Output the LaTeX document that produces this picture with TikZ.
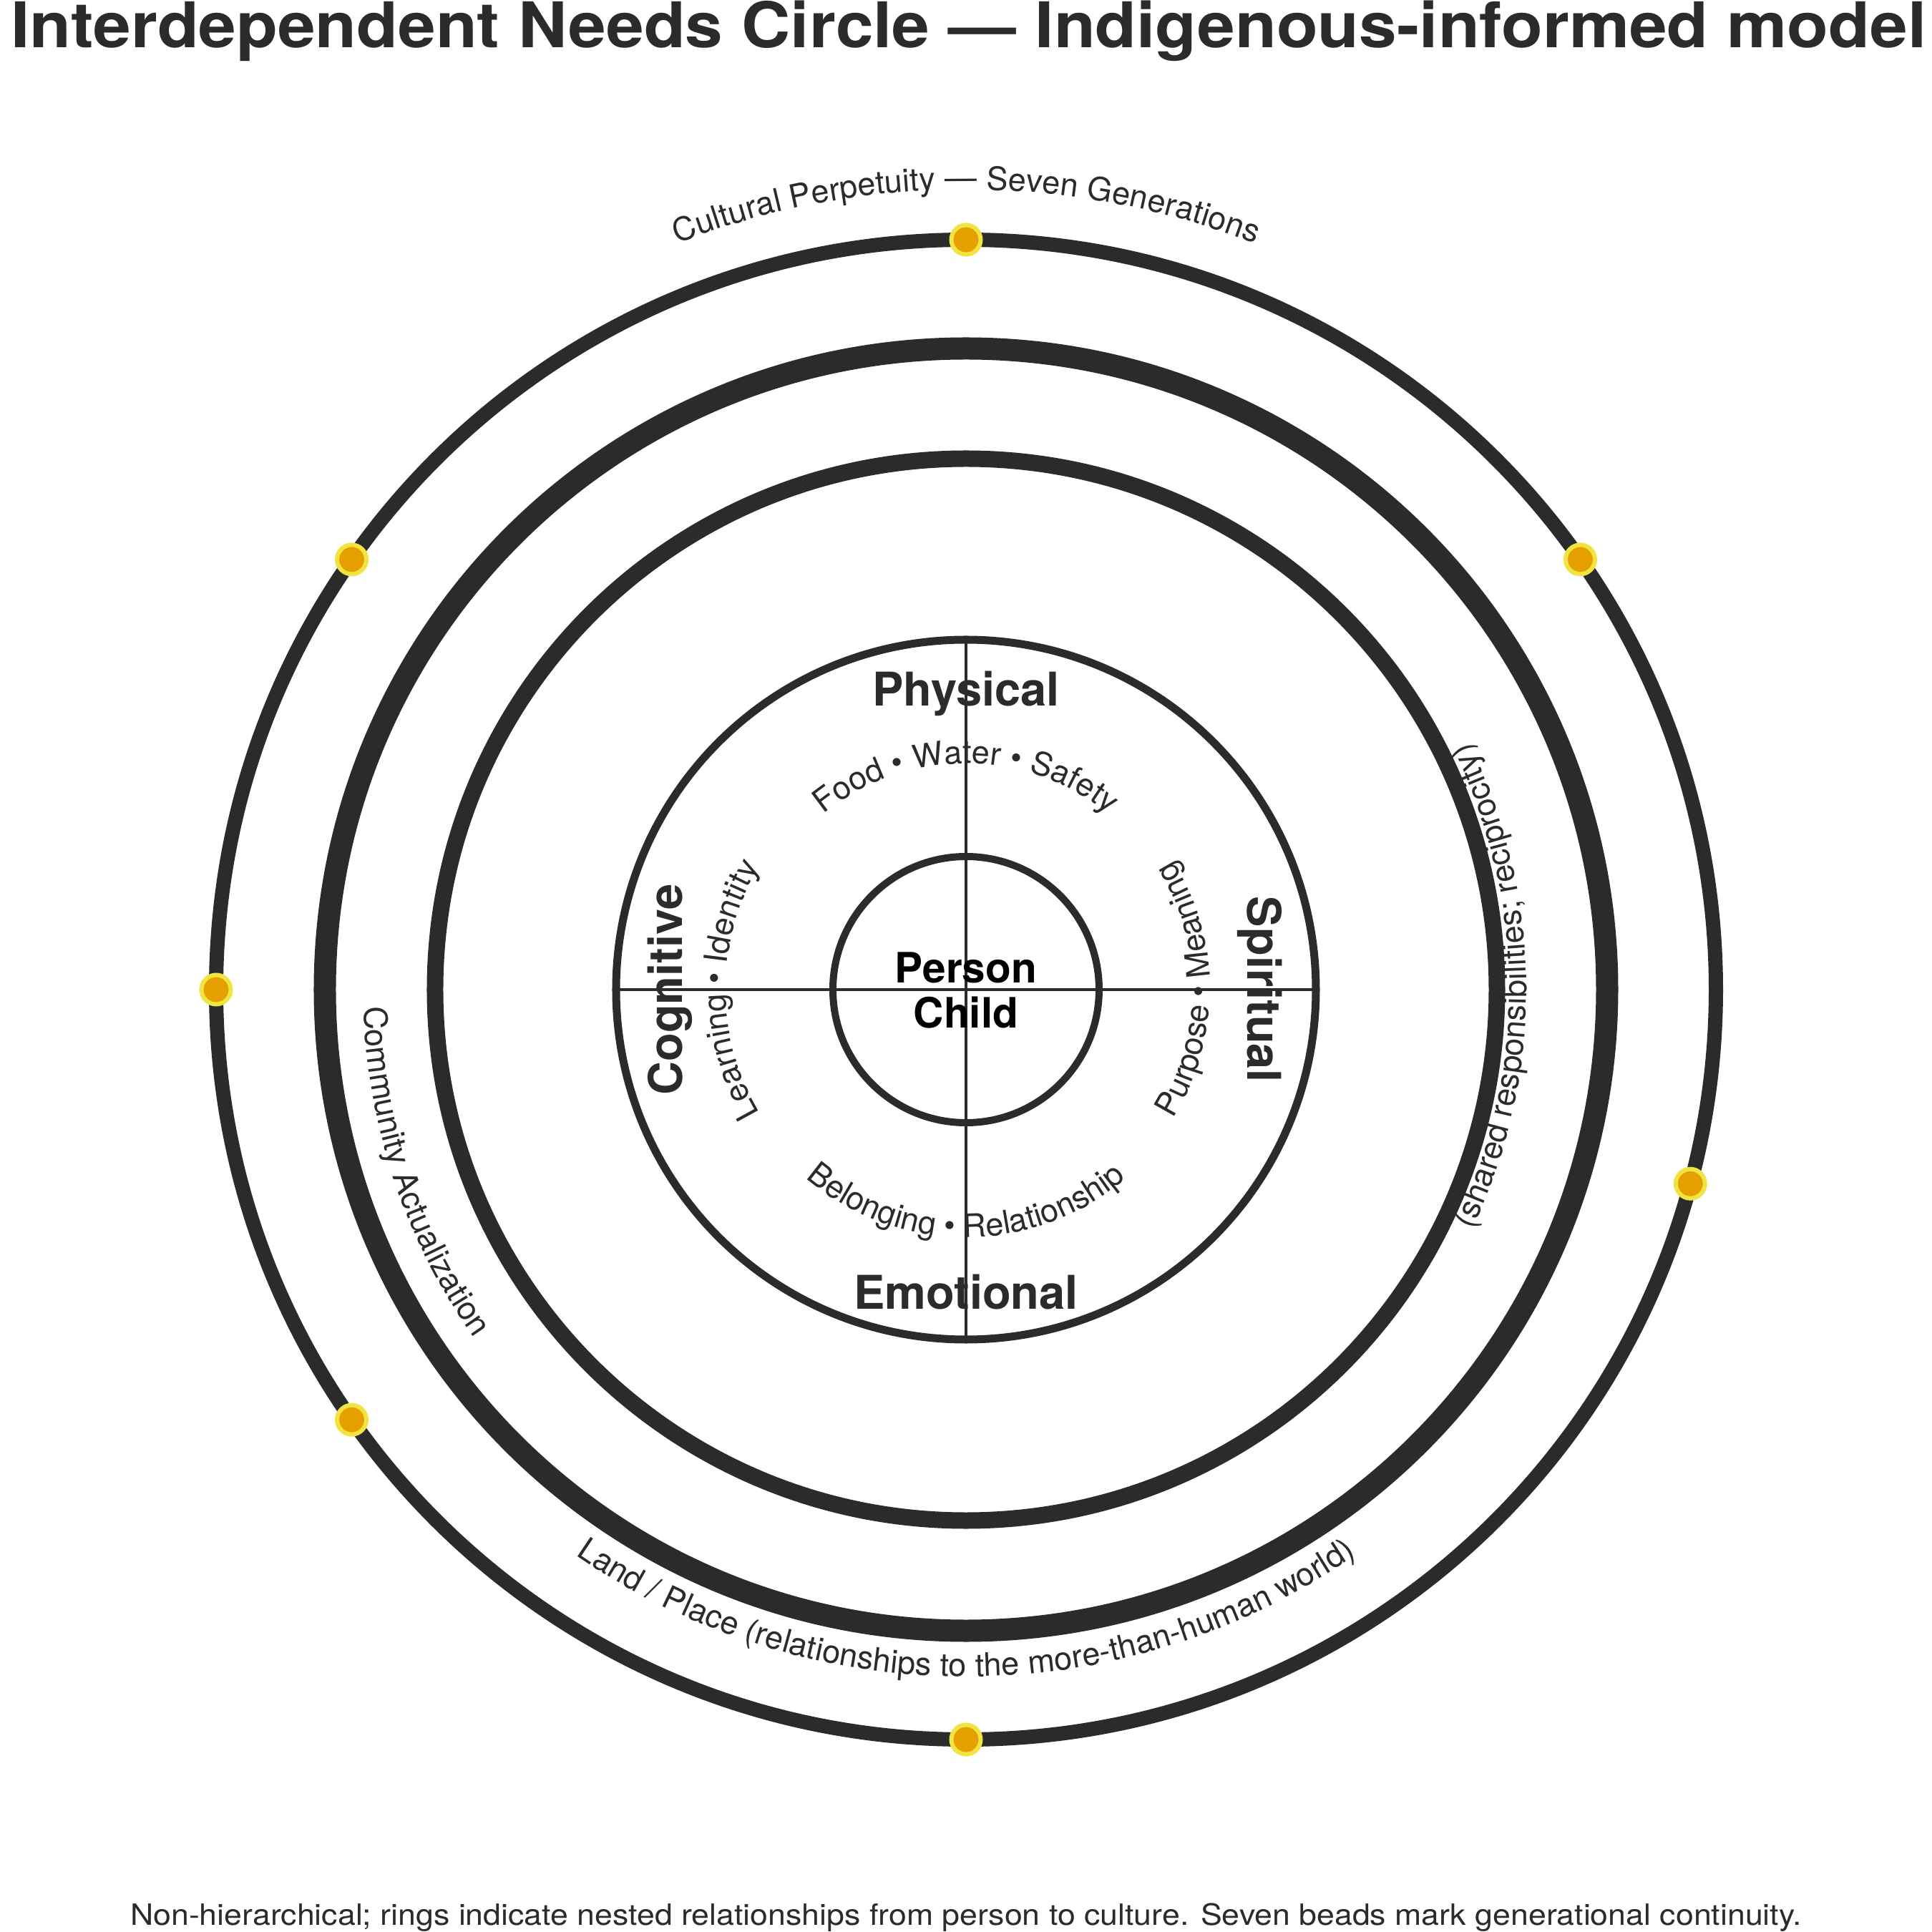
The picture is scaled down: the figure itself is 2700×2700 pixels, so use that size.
\documentclass[tikz,border=0pt]{standalone}
\usepackage{fontspec}
\setmainfont{TeX Gyre Heros}
\usetikzlibrary{decorations.text}
\definecolor{ink}{HTML}{2B2B2B}
\definecolor{beadfill}{HTML}{E69F00}
\definecolor{beadline}{HTML}{F0E442}
\newcommand\lblfont{\fontsize{45}{54}\selectfont}
\begin{document}
\begin{tikzpicture}[x=1pt,y=1pt,
  ringline/.style={draw=ink, line width=#1},
  crossline/.style={draw=ink, line width=4pt},
  arctext/.style={decorate, decoration={text along path, text align=center, text color=ink, text={|\lblfont|#1}}},
  boldlbl/.style={text=ink, font=\fontsize{65}{78}\selectfont\bfseries, anchor=base, inner sep=0pt},
  centerlbl/.style={text=black, font=\fontsize{58.5}{70}\selectfont\bfseries, anchor=base, inner sep=0pt},
  bead/.style={circle, fill=beadfill, draw=beadline, line width=6pt, minimum size=41pt, inner sep=0pt}]
\useasboundingbox (-1350,-1317) rectangle (1350,1383);
\coordinate (c) at (0,0);
% rings
\draw[ringline=20pt] (c) circle[radius=1048pt];
\draw[ringline=31pt] (c) circle[radius=896pt];
\draw[ringline=23pt] (c) circle[radius=742pt];
\draw[ringline=11pt] (c) circle[radius=489pt];
\draw[ringline=10pt] (c) circle[radius=186pt];
% cross
\coordinate (w) at (-489,0);
\coordinate (e) at (489,0);
\coordinate (n) at (0,489);
\coordinate (s) at (0,-489);
\draw[crossline] (w) -- (e);
\draw[crossline] (n) -- (s);
% title and footer
\node[text=ink, font=\fontsize{88}{100}\selectfont\bfseries, anchor=base, inner sep=0pt, xscale=1.075] (title) at (4,1316) {Interdependent Needs Circle — Indigenous-informed model};
\node[text=ink, font=\fontsize{41}{50}\selectfont, anchor=base, inner sep=0pt, xscale=1.09] (footer) at (0,-1307) {Non-hierarchical; rings indicate nested relationships from person to culture. Seven beads mark generational continuity.};
% quadrant labels
\node[boldlbl] (phys) at (0,396) {Physical};
\node[boldlbl] (emo) at (0,-446) {Emotional};
\node[boldlbl, rotate=90] (cog) at (-396,0) {Cognitive};
\node[boldlbl, rotate=-90] (spi) at (393,0) {Spiritual};
\node[centerlbl] (person) at (0,9) {Person};
\node[centerlbl] (child) at (0,-54) {Child};
% curved labels
\path[arctext={Cultural Perpetuity — Seven Generations}] (150:1118pt) arc[start angle=150, end angle=30, radius=1118pt];
\path[arctext={Community Actualization}] (140:842pt) arc[start angle=140, end angle=257, radius=842pt];
\path[arctext={(shared responsibilities; reciprocity)}] (-59.6:783pt) arc[start angle=-59.6, end angle=60.4, radius=783pt];
\path[arctext={Land / Place (relationships to the more-than-human world)}] (210:960pt) arc[start angle=210, end angle=330, radius=960pt];
\path[arctext={Food • Water • Safety}] (150:316pt) arc[start angle=150, end angle=30, radius=316pt];
\path[arctext={Learning • Identity}] (240:336pt) arc[start angle=240, end angle=120, radius=336pt];
\path[arctext={Purpose • Meaning}] (-60:341pt) arc[start angle=-60, end angle=60, radius=341pt];
\path[arctext={Belonging • Relationship}] (210:346pt) arc[start angle=210, end angle=330, radius=346pt];
% beads
\node[bead] (b1) at (90:1048pt) {};
\node[bead] (b2) at (35:1048pt) {};
\node[bead] (b3) at (-15:1048pt) {};
\node[bead] (b4) at (270:1048pt) {};
\node[bead] (b5) at (215:1048pt) {};
\node[bead] (b6) at (180:1048pt) {};
\node[bead] (b7) at (145:1048pt) {};
\end{tikzpicture}
\end{document}
